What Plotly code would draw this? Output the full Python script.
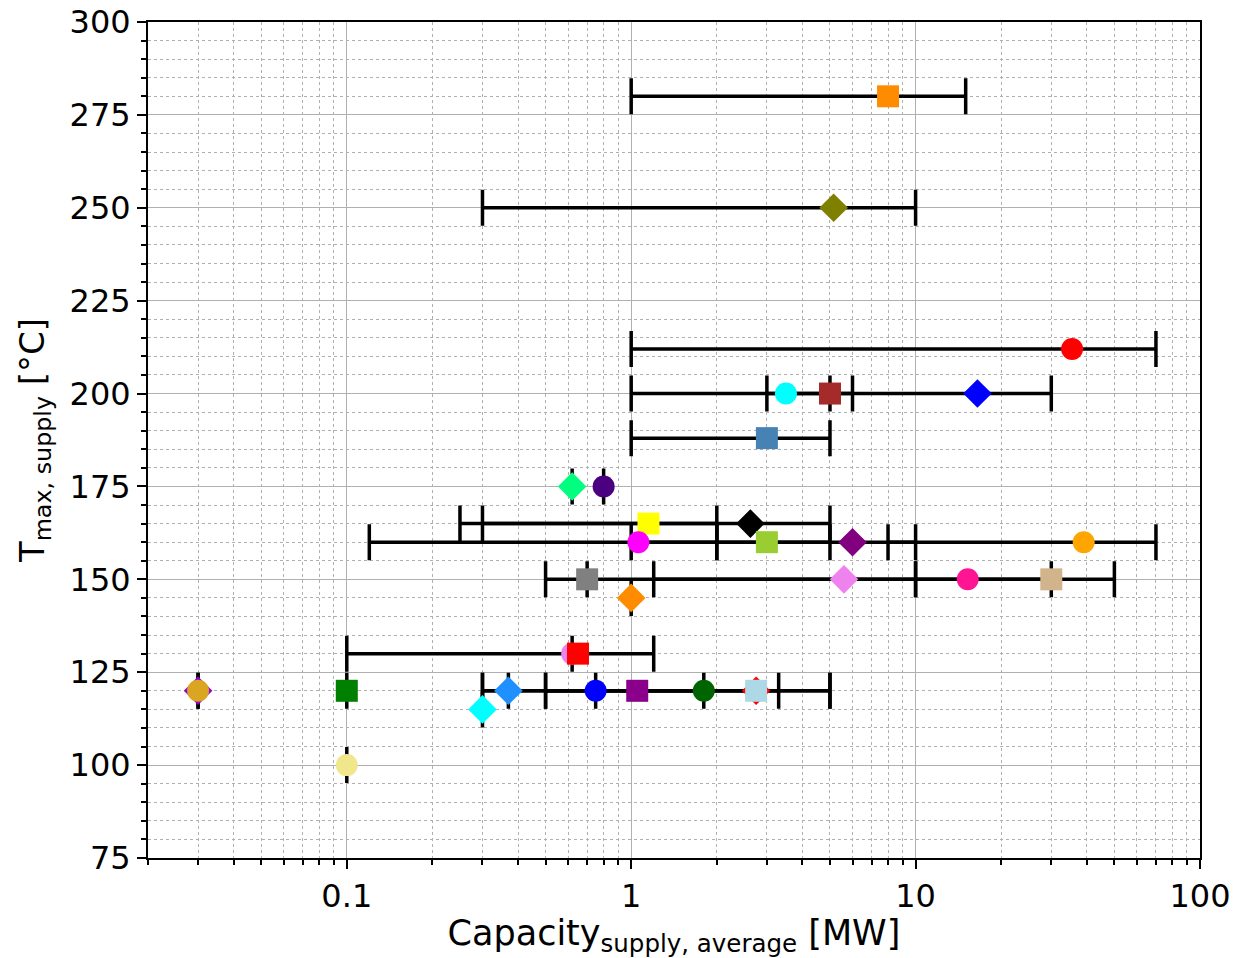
import plotly.graph_objects as go

# Data: centre value, range min/max (capacity, MW), supply temperature (°C)
x_center = [8, 5.15, 35.5, 3.5, 5, 16.5, 3, 0.62, 0.8, 1.15, 2.625, 1.06, 3, 6, 39,
            0.7, 5.6, 15.25, 30, 1, 0.62, 0.65, 0.03, 0.03, 0.1, 0.37, 0.75, 1.05,
            1.8, 2.75, 2.75, 0.3, 0.1]
x_min = [1, 0.3, 1, 1, 5, 3, 1, 0.62, 0.8, 0.3, 0.25, 0.12, 1, 2, 8,
         0.7, 1.2, 0.5, 10, 1, 0.62, 0.1, 0.03, 0.03, 0.1, 0.37, 0.75, 0.3,
         0.3, 0.5, 0.5, 0.3, 0.1]
x_max = [15, 10, 70, 6, 5, 30, 5, 0.62, 0.8, 2, 5, 2, 5, 10, 70,
         0.7, 10, 30, 50, 1, 0.62, 1.2, 0.03, 0.03, 0.1, 0.37, 0.75, 1.8,
         3.3, 5, 5, 0.3, 0.1]
t_supply = [280, 250, 212, 200, 200, 200, 188, 175, 175, 165, 165, 160, 160, 160, 160,
            150, 150, 150, 150, 145, 130, 130, 120, 120, 120, 120, 120, 120,
            120, 120, 120, 115, 100]
colors = ["darkorange", "olive", "red", "cyan", "brown", "blue", "steelblue",
          "springgreen", "indigo", "yellow", "black", "magenta", "yellowgreen",
          "purple", "orange", "gray", "violet", "deeppink", "tan", "darkorange",
          "violet", "red", "darkviolet", "goldenrod", "green", "dodgerblue", "blue",
          "darkmagenta", "darkgreen", "red", "lightblue", "cyan", "khaki"]
symbols = ["square", "diamond", "circle", "circle", "square", "diamond", "square",
           "diamond", "circle", "square", "diamond", "circle", "square",
           "diamond", "circle", "square", "diamond", "circle", "square", "diamond",
           "circle", "square", "diamond", "circle", "square", "diamond", "circle",
           "square", "circle", "diamond", "square", "diamond", "circle"]

x_ticks = [0.1, 1, 10, 100]
x_tick_text = ["0.1", "1", "10", "100"]
y_ticks = [75, 100, 125, 150, 175, 200, 225, 250, 275, 300]

err_plus = [b - c for b, c in zip(x_max, x_center)]
err_minus = [c - a for a, c in zip(x_min, x_center)]

fig = go.Figure()
fig.add_trace(go.Scatter(
    x=x_center, y=t_supply, mode="markers",
    marker=dict(color=colors, symbol=symbols, size=22, line=dict(width=0)),
    error_x=dict(type="data", symmetric=False, array=err_plus, arrayminus=err_minus,
                 color="black", thickness=3.5, width=18),
    showlegend=False, hoverinfo="x+y",
))

minor_x = [m * 10 ** e for e in range(-2, 2) for m in range(2, 10)]

# page body adds an 8px offset; figure sized so the plot area lands at 148..1200 x 22..858
fig.update_layout(
    width=1230, height=950,
    margin=dict(l=140, r=38, t=14, b=100),
    plot_bgcolor="white", paper_bgcolor="white",
    font=dict(family="DejaVu Sans", color="black", size=30),
)
fig.update_xaxes(
    type="log", range=[-1.69897, 2], automargin=False, ticklabeloverflow="allow",
    tickvals=x_ticks, ticktext=x_tick_text,
    showline=True, linecolor="black", linewidth=2, mirror=True,
    ticks="outside", ticklen=9, tickwidth=2, tickcolor="black",
    showgrid=True, gridcolor="#b0b0b0", gridwidth=1,
    zeroline=False,
    tickfont=dict(size=32),
    minor=dict(tickvals=minor_x, ticks="outside", ticklen=5, tickwidth=1.5,
               tickcolor="black", showgrid=True, gridcolor="#b0b0b0",
               griddash="dot", gridwidth=1),
    title=dict(text="Capacity<sub>supply, average</sub> [MW]", font=dict(size=35),
               standoff=10),
)
fig.update_yaxes(
    range=[75, 300], tickvals=y_ticks, automargin=False, ticklabeloverflow="allow",
    showline=True, linecolor="black", linewidth=2, mirror=True,
    ticks="outside", ticklen=9, tickwidth=2, tickcolor="black",
    showgrid=True, gridcolor="#b0b0b0", gridwidth=1,
    zeroline=False,
    tickfont=dict(size=32),
    minor=dict(dtick=5, ticks="outside", ticklen=5, tickwidth=1.5,
               tickcolor="black", showgrid=True, gridcolor="#b0b0b0",
               griddash="dot", gridwidth=1),
    title=dict(text="T<sub>max, supply</sub> [°C]", font=dict(size=34), standoff=15),
)

fig.write_html("out.html")
